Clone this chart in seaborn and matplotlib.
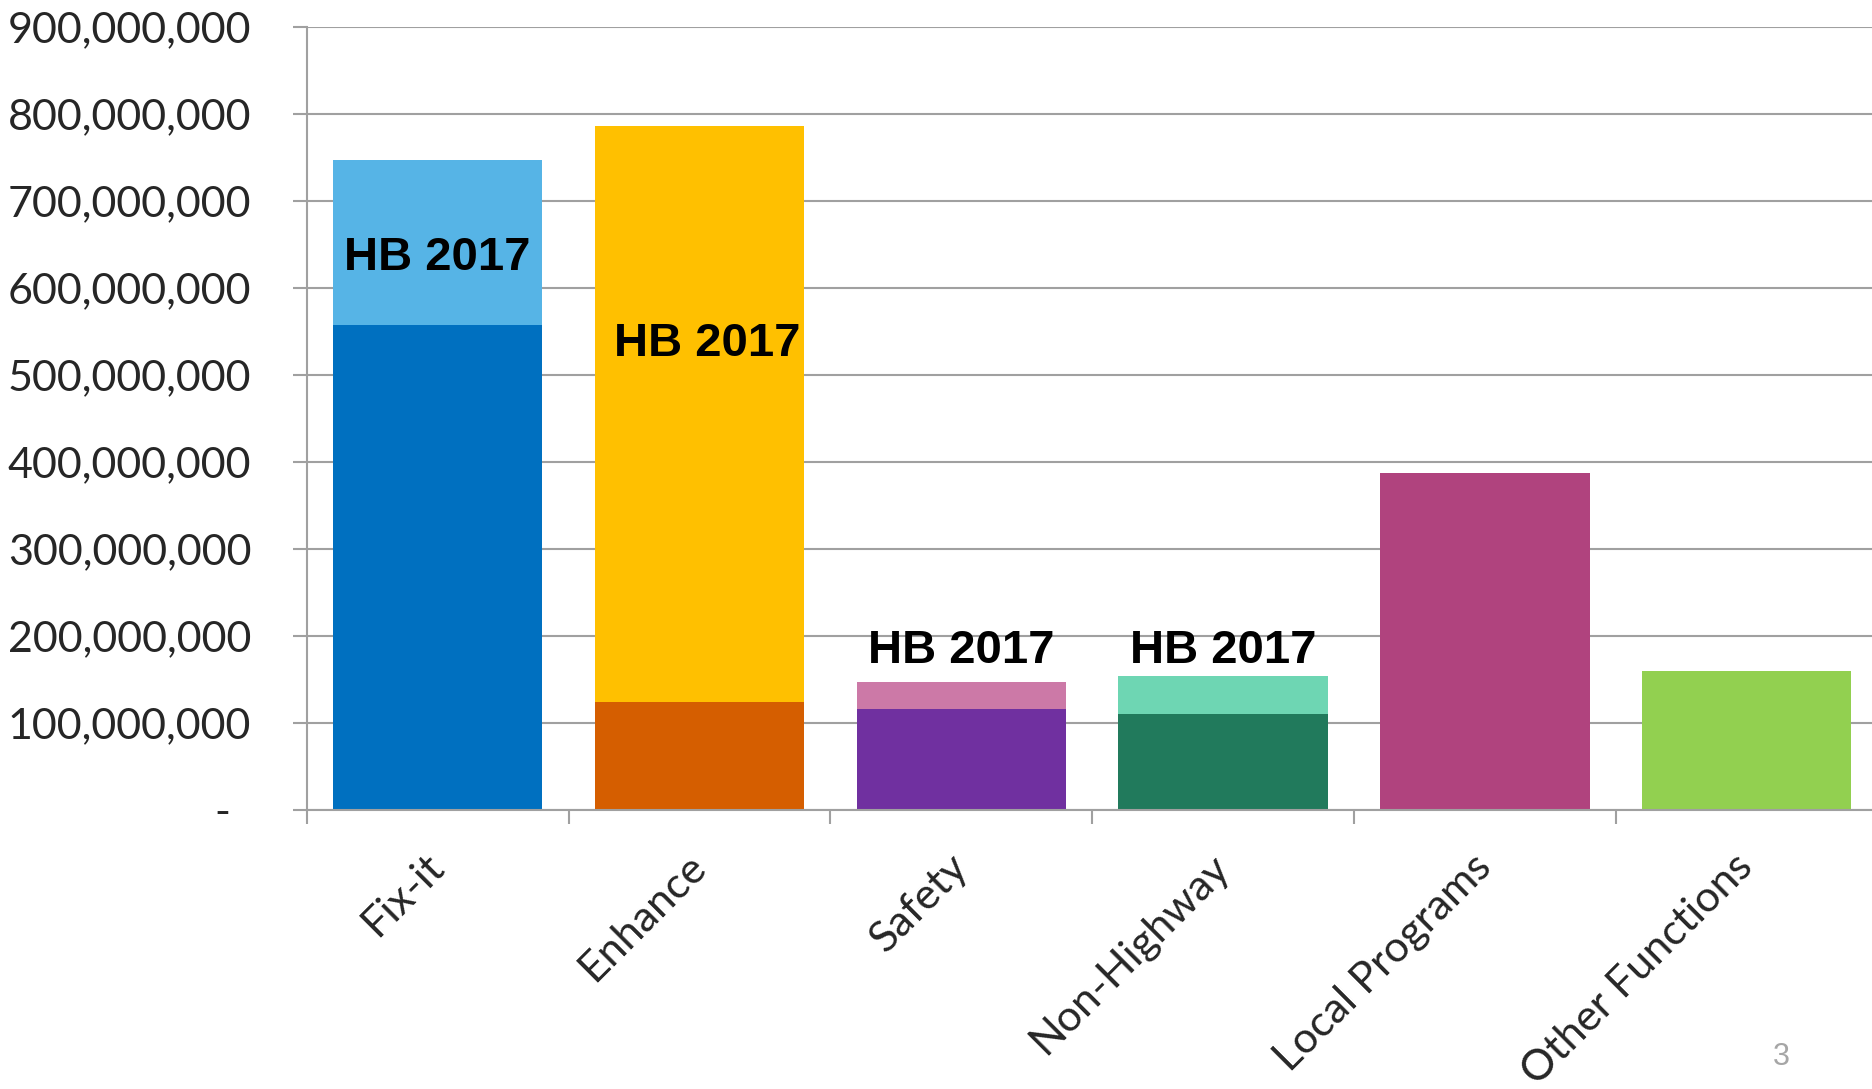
import numpy as np
import pandas as pd
import seaborn as sns
import matplotlib.pyplot as plt
from matplotlib.ticker import FuncFormatter
from matplotlib.transforms import ScaledTranslation

# data
categories = ["Fix-it", "Enhance", "Safety", "Non-Highway", "Local Programs", "Other Functions"]
base_funding = [557e6, 124e6, 116e6, 110e6, 387e6, 159.5e6]
hb2017_added = [190e6, 662e6, 31e6, 44e6, 0, 0]
y_ticks = [0, 100e6, 200e6, 300e6, 400e6, 500e6, 600e6, 700e6, 800e6, 900e6]

base_colors = ["#0070C0", "#D55E00", "#7030A0", "#217A5C", "#B0437E", "#92D050"]
hb_colors = ["#56B4E6", "#FFC000", "#CC79A7", "#6ED6B3", "#B0437E", "#92D050"]
hb_label = "HB 2017"
hb_label_y = [634e6, 535e6, 182e6, 182e6, None, None]
hb_label_dx = [0, 0.03, 0, 0, 0, 0]

gray = "#A0A0A0"

df = pd.DataFrame({
    "category": categories,
    "base": base_funding,
    "total": np.add(base_funding, hb2017_added),
})

sns.set_style("white")
plt.rcParams["font.family"] = ["Lato", "DejaVu Sans"]

fig = plt.figure(figsize=(18.72, 10.89), dpi=100)
ax = fig.add_axes([0.1639, 0.2565, 0.8391, 0.7187])

# total first (HB 2017 share on top), then base funding over it
sns.barplot(data=df, x="category", y="total", hue="category", palette=hb_colors,
            saturation=1, width=0.8, linewidth=0, errorbar=None, legend=False, ax=ax)
sns.barplot(data=df, x="category", y="base", hue="category", palette=base_colors,
            saturation=1, width=0.8, linewidth=0, errorbar=None, legend=False, ax=ax)

for i, y in enumerate(hb_label_y):
    if y is not None:
        ax.text(i + hb_label_dx[i], y, hb_label, ha="center", va="center", fontsize=34,
                fontweight="bold", family="Liberation Sans", color="black")

ax.set_xlim(-0.5, len(categories) - 0.5)
ax.set_ylim(0, 900e6)
ax.set_yticks(y_ticks)
ax.yaxis.set_major_formatter(FuncFormatter(lambda v, p: f"{v:,.0f}" if v else "-"))
ax.yaxis.grid(True, color=gray, lw=1.5)
ax.set_axisbelow(True)

for side in ["top", "right"]:
    ax.spines[side].set_visible(False)
for side in ["left", "bottom"]:
    ax.spines[side].set_color(gray)
    ax.spines[side].set_linewidth(1.5)

ax.tick_params(axis="y", left=True, length=10, width=1.5, color=gray, pad=30, labelsize=31)

ax.set_xticks(range(len(categories)))
ax.set_xticks(np.arange(-0.5, len(categories), 1), minor=True)
ax.set_xticklabels(categories, rotation=45, ha="right", va="center", rotation_mode="anchor")
ax.tick_params(axis="x", which="major", bottom=True, length=0, pad=37, labelsize=31)
ax.tick_params(axis="x", which="minor", bottom=True, length=10, width=1.5, color=gray)

ax.set_xlabel("")
ax.set_ylabel("")

# accounting-style zero: the dash sits a bit left of the other labels
zero_label = ax.yaxis.get_major_ticks()[0].label1
zero_label.set_transform(zero_label.get_transform() + ScaledTranslation(-0.21, 0, fig.dpi_scale_trans))

fig.text(0.9517, 0.0298, "3", ha="center", va="center", fontsize=22,
         color="#A6A6A6", family="Liberation Sans")

fig.savefig("out.png", dpi=100)
